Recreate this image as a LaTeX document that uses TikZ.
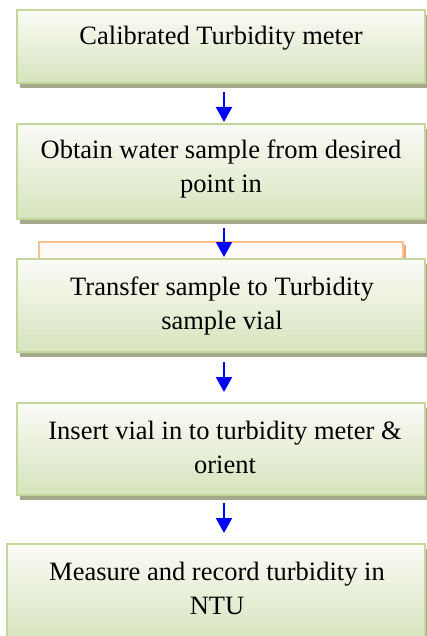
\documentclass[tikz,border=0pt]{standalone}
\usepackage{fontspec}
\setmainfont{Liberation Serif}
\usetikzlibrary{arrows.meta,shadows}
\definecolor{boxline}{HTML}{C3D69B}
\definecolor{boxtop}{HTML}{FAFBF6}
\definecolor{boxbot}{HTML}{D7E4BD}
\definecolor{shadowc}{HTML}{A5A98C}
\definecolor{orline}{HTML}{FAC090}
\definecolor{orshadow}{HTML}{E6A77C}
\definecolor{orfill}{HTML}{FFFBF8}
\tikzset{
  stepbox/.style={draw=boxline, line width=2pt, rectangle, inner sep=0pt,
    top color=boxtop, bottom color=boxbot,
    general shadow={fill=shadowc, shadow xshift=3pt, shadow yshift=-5pt}},
  txt/.style={font=\fontsize{26.5}{34}\selectfont, align=center, inner sep=0pt, anchor=base},
  flow/.style={draw=blue, line width=2.2pt, -{Triangle[width=16pt,length=15pt]}}
}
\begin{document}
\begin{tikzpicture}[x=1pt,y=-1pt]
\useasboundingbox (0,0) rectangle (426,636);
% orange frame behind box 3
\fill[orshadow] (41,245) rectangle (406,300);
\draw[orline, line width=1.8pt, fill=orfill] (39,242) rectangle (403,300);
\node[stepbox, minimum width=408pt, minimum height=73pt] (b1) at (221,46.5) {};
\node[stepbox, minimum width=408pt, minimum height=95pt] (b2) at (221,171.5) {};
\node[stepbox, minimum width=408pt, minimum height=93pt] (b3) at (221,305.5) {};
\node[stepbox, minimum width=408pt, minimum height=92pt] (b4) at (221,449) {};
\node[stepbox, minimum width=418pt, minimum height=96pt] (b5) at (216,592) {};
\node[txt] (t1) at (221,45) {Calibrated Turbidity meter};
\node[txt] (t2) at (221,193) {Obtain water sample from desired\\point in};
\node[txt] (t3) at (222,329) {Transfer sample to Turbidity\\sample vial};
\node[txt] (t4) at (225,473) {Insert vial in to turbidity meter \&\\orient};
\node[txt] (t5) at (217,614) {Measure and record turbidity in\\NTU};
\draw[flow, shorten <=8pt, shorten >=1pt] ([xshift=3pt]b1.south) -- ([xshift=3pt]b2.north);
\draw[flow, shorten <=8pt, shorten >=1pt] ([xshift=3pt]b2.south) -- ([xshift=3pt]b3.north);
\draw[flow, shorten <=9pt, shorten >=10pt] ([xshift=3pt]b3.south) -- ([xshift=3pt]b4.north);
\draw[flow, shorten <=7pt, shorten >=10pt] ([xshift=3pt]b4.south) -- ([xshift=8pt]b5.north);
\end{tikzpicture}
\end{document}
